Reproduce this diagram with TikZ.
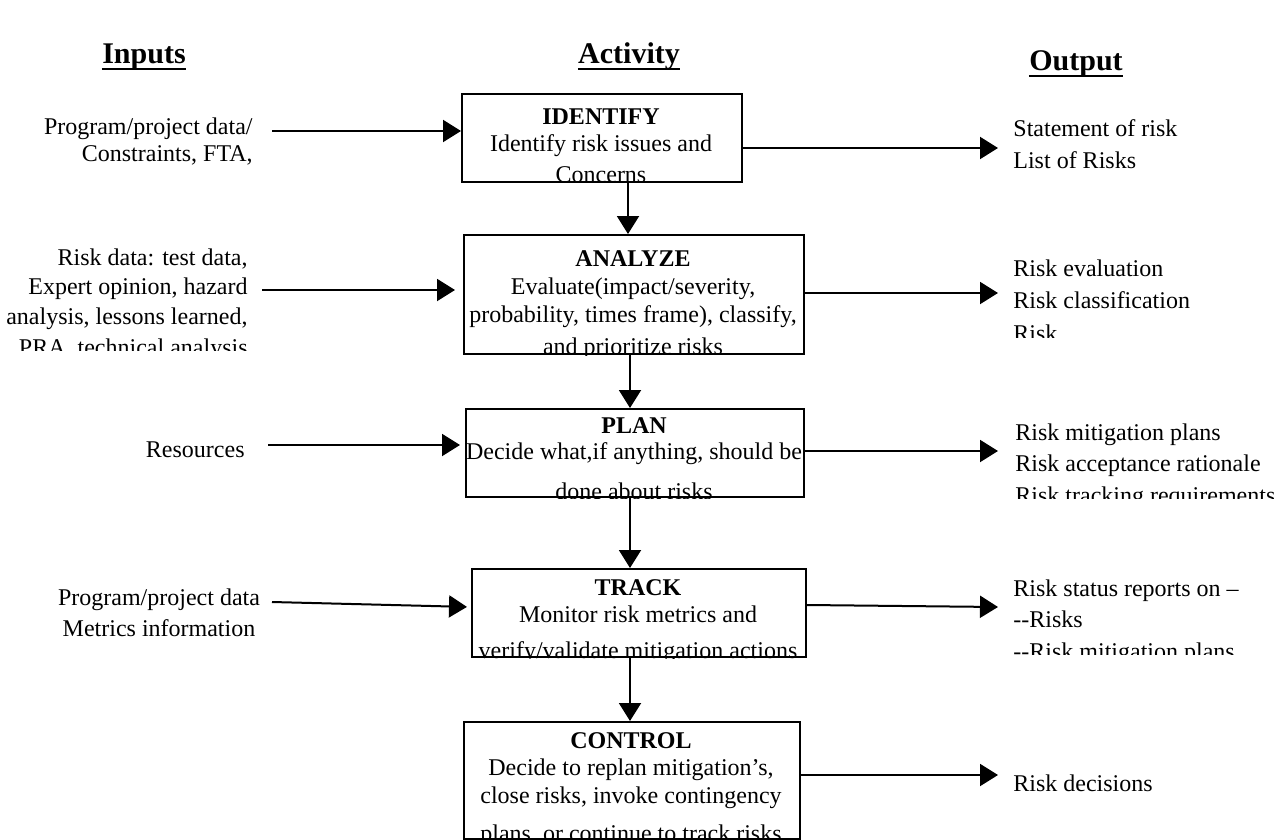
\documentclass[tikz,border=0pt]{standalone}
\usepackage{fontspec}
\setmainfont{Liberation Serif}
\usetikzlibrary{arrows.meta}
\begin{document}
\begin{tikzpicture}[x=0.5pt,y=-0.5pt,
  box/.style={draw,line width=1pt,inner sep=0pt,anchor=north west},
  ln/.style={inner sep=0pt,anchor=base,font=\fontsize{12}{14}\selectfont},
  lnr/.style={ln,anchor=base east},
  lnl/.style={ln,anchor=base west},
  hd/.style={ln,font=\fontsize{12}{14}\selectfont\bfseries},
  ttl/.style={inner sep=0pt,anchor=base,font=\fontsize{15}{18}\selectfont\bfseries},
  uline/.style={line width=1.2pt},
  arr/.style={line width=1pt,-{Triangle[length=9pt,width=11pt]}}]
\useasboundingbox (0,0) rectangle (1274,840);

% column titles
\node[ttl] (tin) at (144,64) {Inputs};
\node[ttl] (tact) at (629,64) {Activity};
\node[ttl] (tout) at (1076,71) {Output};
\foreach \t in {tin,tact,tout}
  \draw[uline] ([yshift=-2.5pt]\t.base west) -- ([yshift=-2.5pt]\t.base east);

% activity boxes
\node[box,minimum width=140pt,minimum height=44pt] (identify) at (461,93) {};
\node[box,minimum width=170pt,minimum height=59.5pt] (analyze) at (463,234) {};
\node[box,minimum width=169pt,minimum height=44pt] (plan) at (465,408) {};
\node[box,minimum width=167pt,minimum height=44pt] (track) at (471,568) {};
\node[box,minimum width=168pt,minimum height=58.5pt] (control) at (463,721) {};

% box texts, cut off at the box edges
\begin{scope}
  \clip (identify.north west) rectangle (identify.south east);
  \node[hd] (id0) at (601,125) {IDENTIFY};
  \node[ln] (id1) at (601,152) {Identify risk issues and};
  \node[ln] (id2) at (601,183) {Concerns};
\end{scope}
\begin{scope}
  \clip (analyze.north west) rectangle (analyze.south east);
  \node[hd] (an0) at (633,266) {ANALYZE};
  \node[ln] (an1) at (633,294) {Evaluate(impact/severity,};
  \node[ln] (an2) at (633,322) {probability, times frame), classify,};
  \node[ln] (an3) at (633,354) {and prioritize risks};
\end{scope}
\begin{scope}
  \clip (plan.north west) rectangle (plan.south east);
  \node[hd] (pl0) at (634,433) {PLAN};
  \node[ln] (pl1) at (634,459) {Decide what,if anything, should be};
  \node[ln] (pl2) at (634,499) {done about risks};
\end{scope}
\begin{scope}
  \clip (track.north west) rectangle (track.south east);
  \node[hd] (tr0) at (638,595) {TRACK};
  \node[ln] (tr1) at (638,622) {Monitor risk metrics and};
  \node[ln] (tr2) at (638,658) {verify/validate mitigation actions};
\end{scope}
\begin{scope}
  \clip (control.north west) rectangle (control.south east);
  \node[hd] (co0) at (631,748) {CONTROL};
  \node[ln] (co1) at (631,775) {Decide to replan mitigation’s,};
  \node[ln] (co2) at (631,803) {close risks, invoke contingency};
  \node[ln] (co3) at (631,841) {plans, or continue to track risks};
\end{scope}

% inputs
\node[lnr] (in1a) at (253,134) {Program/project data/};
\node[lnr] (in1b) at (253,162) {Constraints, FTA,};
\begin{scope}
  \clip (0,230) rectangle (262,350);
  \node[lnr] (in2a) at (248,265) {Risk data: test data,};
  \node[lnr] (in2b) at (248,294) {Expert opinion, hazard};
  \node[lnr] (in2c) at (248,324) {analysis, lessons learned,};
  \node[lnr] (in2d) at (248,355) {PRA, technical analysis};
\end{scope}
\node[lnr] (in3) at (245,457) {Resources};
\node[ln] (in4a) at (159,605) {Program/project data};
\node[ln] (in4b) at (159,636) {Metrics information};

% outputs
\node[lnl] (o1a) at (1013,136) {Statement of risk};
\node[lnl] (o1b) at (1013,169) {List of Risks};
\begin{scope}
  \clip (990,250) rectangle (1274,337);
  \node[lnl] (o2a) at (1013,276) {Risk evaluation};
  \node[lnl] (o2b) at (1013,308) {Risk classification};
  \node[lnl] (o2c) at (1013,341) {Risk};
\end{scope}
\begin{scope}
  \clip (990,410) rectangle (1274,498);
  \node[lnl] (o3a) at (1015,440) {Risk mitigation plans};
  \node[lnl] (o3b) at (1015,471) {Risk acceptance rationale};
  \node[lnl] (o3c) at (1015,503) {Risk tracking requirements};
\end{scope}
\begin{scope}
  \clip (990,570) rectangle (1274,654);
  \node[lnl] (o4a) at (1013,596) {Risk status reports on –};
  \node[lnl] (o4b) at (1013,627) {{-}{-}Risks};
  \node[lnl] (o4c) at (1013,659) {{-}{-}Risk mitigation plans};
\end{scope}
\node[lnl] (o5) at (1013,791) {Risk decisions};

% input arrows
\coordinate (i1) at (272,131);
\coordinate (i2) at (262,290);
\coordinate (i3) at (268,445);
\coordinate (i4) at (272,602);
\coordinate (i4e) at (0,607);
\draw[arr] (i1) -- (i1 -| identify.west);
\draw[arr,shorten >=4pt] (i2) -- (i2 -| analyze.west);
\draw[arr,shorten >=2.5pt] (i3) -- (i3 -| plan.west);
\draw[arr,shorten >=2pt] (i4) -- (i4e -| track.west);

% output arrows
\coordinate (e1) at (998,148);
\coordinate (e2) at (998,293);
\coordinate (e3) at (998,451);
\coordinate (e4) at (998,607);
\coordinate (e4s) at (0,605);
\coordinate (e5) at (998,775);
\draw[arr] (e1 -| identify.east) -- (e1);
\draw[arr] (e2 -| analyze.east) -- (e2);
\draw[arr] (e3 -| plan.east) -- (e3);
\draw[arr] (e4s -| track.east) -- (e4);
\draw[arr] (e5 -| control.east) -- (e5);

% flow between activities
\coordinate (v1) at (628,0);
\coordinate (v2) at (630,0);
\draw[arr] (identify.south -| v1) -- (analyze.north -| v1);
\draw[arr] (analyze.south -| v2) -- (plan.north -| v2);
\draw[arr] (plan.south -| v2) -- (track.north -| v2);
\draw[arr] (track.south -| v2) -- (control.north -| v2);
\end{tikzpicture}
\end{document}
